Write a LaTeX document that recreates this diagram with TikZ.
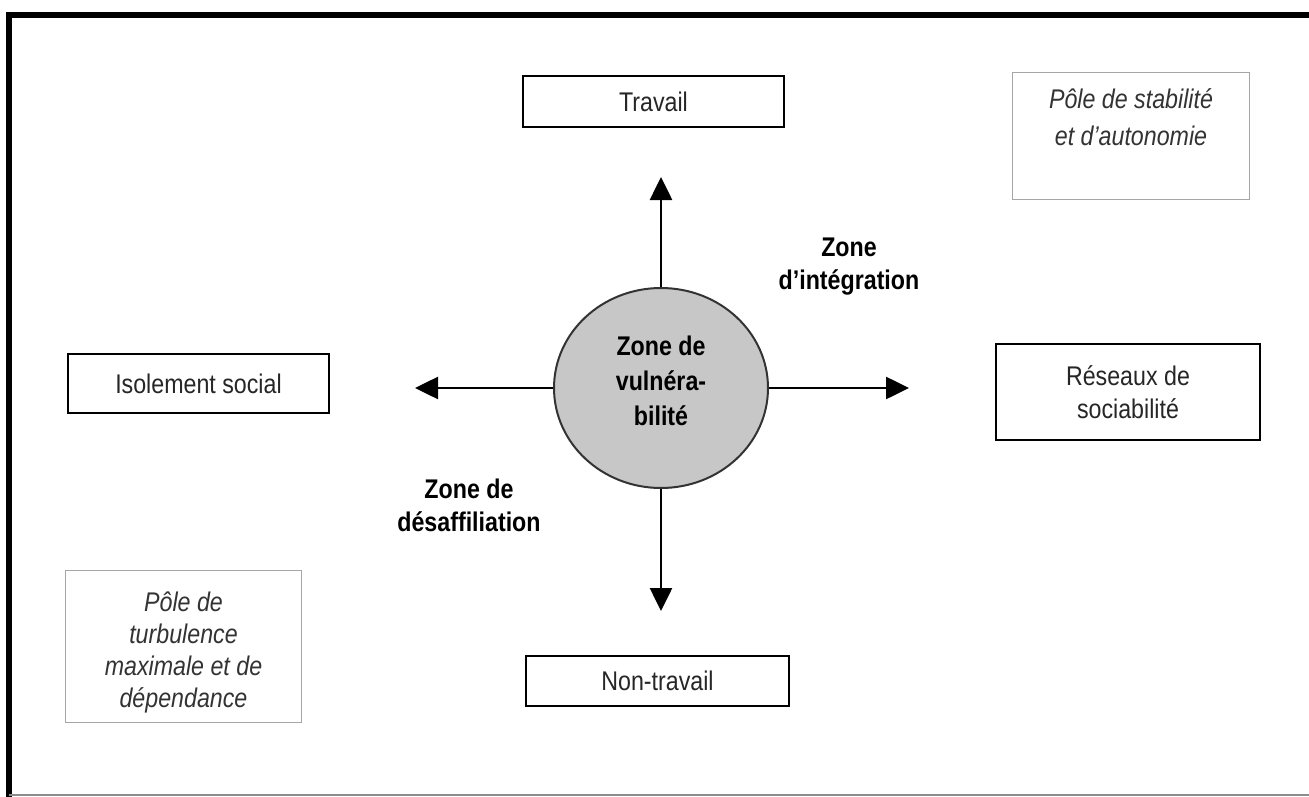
\documentclass[tikz,border=0pt]{standalone}
\usepackage{fontspec}
\setmainfont{Liberation Sans}[FakeStretch=0.86]
\usetikzlibrary{arrows.meta,shapes.geometric}
\begin{document}
\begin{tikzpicture}[x=1pt,y=-1pt,
  mainbox/.style={draw=black,line width=2.8pt,fill=white,align=center,inner sep=0pt,
    font=\fontsize{27}{33}\selectfont,text=black!85},
  polebox/.style={draw=black!35,line width=1.8pt,inner sep=0pt},
  poletext/.style={align=center,font=\fontsize{27}{33}\selectfont\itshape,text=black!80},
  zonetext/.style={align=center,font=\fontsize{27}{33}\selectfont\bfseries,text=black},
  circtext/.style={align=center,font=\fontsize{27}{35}\selectfont\bfseries,text=black},
  arr/.style={-{Triangle[length=23pt,width=22pt]},line width=2.6pt}]
\useasboundingbox (0,0) rectangle (1309,797);
% frame
\draw[line width=6pt,black,line join=miter] (9,797) -- (9,15) -- (1309,15);
\draw[line width=1.5pt,black!45] (9,795) -- (1309,795);
% central circle
\node[draw=black!80,line width=2pt,fill=black!22,ellipse,minimum width=214pt,minimum height=200pt,inner sep=0pt] (c) at (661,388) {};
\node[circtext] (ct) at (661,381) {Zone de\\vulnéra-\\bilité};
% boxes
\node[mainbox,minimum width=261pt,minimum height=51pt] (trav) at (653.5,101.5) {Travail};
\node[mainbox,minimum width=261pt,minimum height=59pt] (isol) at (198.5,383.5) {Isolement social};
\node[mainbox,minimum width=264pt,minimum height=96pt] (res) at (1128,392) {Réseaux de\\sociabilité};
\node[mainbox,minimum width=263pt,minimum height=50pt] (nont) at (657.5,681) {Non-travail};
% pole boxes
\node[polebox,minimum width=237pt,minimum height=127pt] (stab) at (1131,136) {};
\node[poletext,font=\fontsize{27}{37}\selectfont\itshape] (stabt) at (1131,117) {Pôle de stabilité\\et d’autonomie};
\node[polebox,minimum width=236pt,minimum height=152pt] (turb) at (183.5,646.5) {};
\node[poletext,font=\fontsize{27}{32}\selectfont\itshape] (turbt) at (183.5,652) {Pôle de\\turbulence\\maximale et de\\dépendance};
% zone labels
\node[zonetext] (zi) at (849,267) {Zone\\d’intégration};
\node[zonetext] (zd) at (469,505) {Zone de\\désaffiliation};
% arrows
\coordinate (tu) at (661,177);
\coordinate (tl) at (415,388);
\coordinate (tr) at (909,388);
\coordinate (td) at (661,611);
\draw[arr] (c.north) -- (tu);
\draw[arr] (c.west) -- (tl);
\draw[arr] (c.east) -- (tr);
\draw[arr] (c.south) -- (td);
\end{tikzpicture}
\end{document}
